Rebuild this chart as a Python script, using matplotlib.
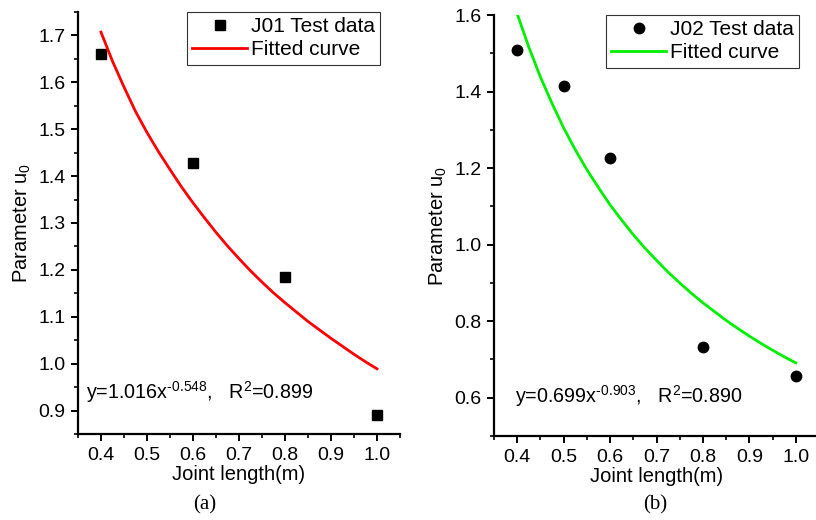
import matplotlib
matplotlib.use("Agg")
import matplotlib.pyplot as plt
from matplotlib.ticker import MultipleLocator

plt.rcParams['font.family'] = ['Liberation Sans', 'DejaVu Sans']
plt.rcParams['mathtext.fontset'] = 'custom'
plt.rcParams['mathtext.rm'] = 'Liberation Sans'
plt.rcParams['mathtext.it'] = 'Liberation Sans'

# Panel (a) J01
j01_x = [0.4, 0.6, 0.8, 1.0]
j01_y = [1.661, 1.428, 1.185, 0.890]
fit_a_x = [0.400, 0.425, 0.450, 0.475, 0.500, 0.525, 0.550, 0.575, 0.600, 0.625, 0.650,
           0.675, 0.700, 0.725, 0.750, 0.775, 0.800, 0.825, 0.850, 0.875, 0.900,
           0.925, 0.950, 0.975, 1.000]
fit_a_y = [1.707, 1.645, 1.590, 1.538, 1.493, 1.452, 1.414, 1.377, 1.343, 1.311, 1.280,
           1.251, 1.224, 1.198, 1.174, 1.151, 1.130, 1.110, 1.090, 1.072, 1.054,
           1.037, 1.020, 1.004, 0.989]

# Panel (b) J02
j02_x = [0.4, 0.5, 0.6, 0.8, 1.0]
j02_y = [1.508, 1.414, 1.226, 0.733, 0.658]
fit_b_x = [0.400, 0.425, 0.450, 0.475, 0.500, 0.525, 0.550, 0.575, 0.600, 0.625, 0.650,
           0.675, 0.700, 0.725, 0.750, 0.775, 0.800, 0.825, 0.850, 0.875, 0.900,
           0.925, 0.950, 0.975, 1.000]
fit_b_y = [1.603, 1.516, 1.438, 1.369, 1.305, 1.248, 1.196, 1.149, 1.104, 1.064, 1.026,
           0.991, 0.959, 0.928, 0.900, 0.873, 0.848, 0.825, 0.802, 0.781, 0.761,
           0.742, 0.724, 0.707, 0.691]

fig = plt.figure(figsize=(8.16, 5.2), dpi=100)
axa = fig.add_axes([78/816, 86/520, 322/816, 422/520])
axb = fig.add_axes([494/816, 84/520, 325/816, 421/520])

TFS = 14
LFS = 14.5

def style(ax, ymajor, yminor):
    for s in ['top', 'right']:
        ax.spines[s].set_visible(False)
    for s in ['left', 'bottom']:
        ax.spines[s].set_linewidth(1.6)
    ax.xaxis.set_major_locator(MultipleLocator(0.1))
    ax.xaxis.set_minor_locator(MultipleLocator(0.05))
    ax.yaxis.set_major_locator(MultipleLocator(ymajor))
    ax.yaxis.set_minor_locator(MultipleLocator(yminor))
    ax.tick_params(which='major', direction='out', length=5, width=1.4, labelsize=TFS, pad=4)
    ax.tick_params(which='minor', direction='out', length=3, width=1.2)
    ax.xaxis.set_major_formatter(plt.FormatStrFormatter('%.1f'))
    ax.yaxis.set_major_formatter(plt.FormatStrFormatter('%.1f'))
    ax.set_xlabel('Joint length(m)', fontsize=LFS, labelpad=1)
    ax.set_ylabel('Parameter u$_0$', fontsize=LFS, labelpad=4)

def legend(ax):
    leg = ax.legend(loc='upper right', bbox_to_anchor=(0.938, 1.0), fontsize=15, frameon=True,
                    fancybox=False, edgecolor='black', borderpad=0.25, handlelength=2.6,
                    handletextpad=0.2, labelspacing=0.2, borderaxespad=0)
    leg.get_frame().set_linewidth(0.8)

# (a)
axa.plot(j01_x, j01_y, linestyle='none', marker='s', markersize=7, color='black', label='J01 Test data')
axa.plot(fit_a_x, fit_a_y, color='#ff0000', linewidth=2, solid_joinstyle='round', label='Fitted curve')
axa.set_xlim(0.35, 1.05)
axa.set_ylim(0.85, 1.75)
style(axa, 0.1, 0.05)
axa.text(0.368, 0.939, 'y=1.016x$^{\u2010 0.548}$,   R$^{2}$=0.899', fontsize=14.2, va='center', ha='left')
legend(axa)

# (b)
axb.plot(j02_x, j02_y, linestyle='none', marker='o', markersize=7.5, color='black', label='J02 Test data')
axb.plot(fit_b_x, fit_b_y, color='#00ee00', linewidth=2, solid_joinstyle='round', label='Fitted curve')
axb.set_xlim(0.35, 1.05)
axb.set_ylim(0.5, 1.6)
style(axb, 0.2, 0.1)
axb.text(0.396, 0.605, 'y=0.699x$^{\u2010 0.903}$,   R$^{2}$=0.890', fontsize=14.2, va='center', ha='left')
legend(axb)

fig.text(205/816, 1 - 505/520, '(a)', family='Liberation Serif', fontsize=15, ha='center', va='center')
fig.text(655/816, 1 - 505/520, '(b)', family='Liberation Serif', fontsize=15, ha='center', va='center')

fig.savefig('out.png', dpi=100)
